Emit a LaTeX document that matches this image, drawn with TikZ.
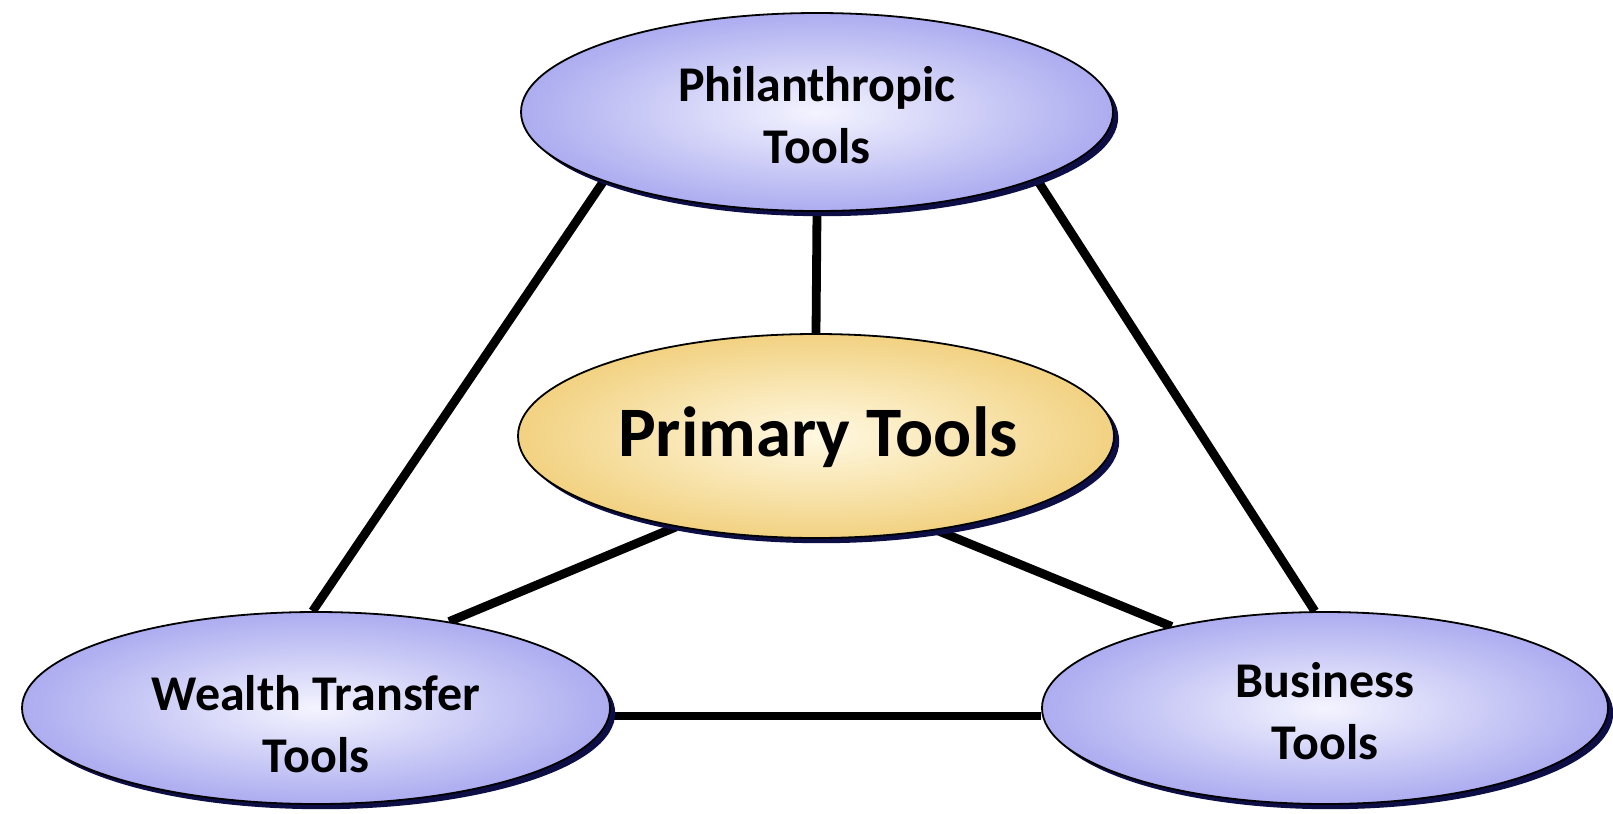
\documentclass[tikz,border=0pt]{standalone}
\usepackage{fontspec}
\setmainfont{Carlito}
\usetikzlibrary{shapes.geometric,shadows,backgrounds}
\definecolor{blueedge}{RGB}{172,172,240}
\definecolor{bluecenter}{RGB}{244,244,255}
\definecolor{yellowedge}{RGB}{242,210,130}
\definecolor{yellowcenter}{RGB}{255,249,226}
\definecolor{shadownavy}{RGB}{14,14,70}
\tikzset{
  oval/.style={ellipse, draw=black, line width=0.9pt, inner sep=0pt,
    drop shadow={fill=shadownavy, opacity=1, shadow xshift=2.6pt, shadow yshift=-2.6pt}},
  blueoval/.style={oval, shading=radial, inner color=bluecenter, outer color=blueedge},
  yellowoval/.style={oval, shading=radial, inner color=yellowcenter, outer color=yellowedge},
  lbl/.style={align=center, font=\fontsize{25}{31}\selectfont\bfseries, inner sep=0pt},
  biglbl/.style={align=center, font=\fontsize{35.5}{42}\selectfont\bfseries, inner sep=0pt},
  link/.style={line width=4.4pt, black}
}
\begin{document}
\begin{tikzpicture}[x=0.5pt, y=-0.5pt]
\useasboundingbox (0,0) rectangle (1613,814);
\node[blueoval, minimum width=296pt, minimum height=99pt] (T) at (817,112) {};
\node[yellowoval, minimum width=298pt, minimum height=102pt] (C) at (816,436) {};
\node[blueoval, minimum width=294pt, minimum height=96pt] (L) at (316,708) {};
\node[blueoval, minimum width=283pt, minimum height=96pt] (R) at (1325,708) {};
\node[lbl] (Tt) at (817,115) {Philanthropic\\Tools};
\node[biglbl] (Ct) at (818,437) {Primary Tools};
\node[lbl] (Lt) at (316,724) {Wealth Transfer\\Tools};
\node[lbl] (Rt) at (1325,711) {Business\\Tools};
\begin{pgfonlayer}{background}
\draw[link] (T.198.2) -- (L.92.5);
\draw[link] (T.south) -- (C.north);
\draw[link] (T.-17.2) -- (R.96.6);
\draw[link] (C.213) -- (L.33.3);
\draw[link] (C.-38.9) -- (R.152.1);
\draw[link] ([yshift=-4pt]L.east) -- ([yshift=-4pt]R.west);
\end{pgfonlayer}
\end{tikzpicture}
\end{document}
